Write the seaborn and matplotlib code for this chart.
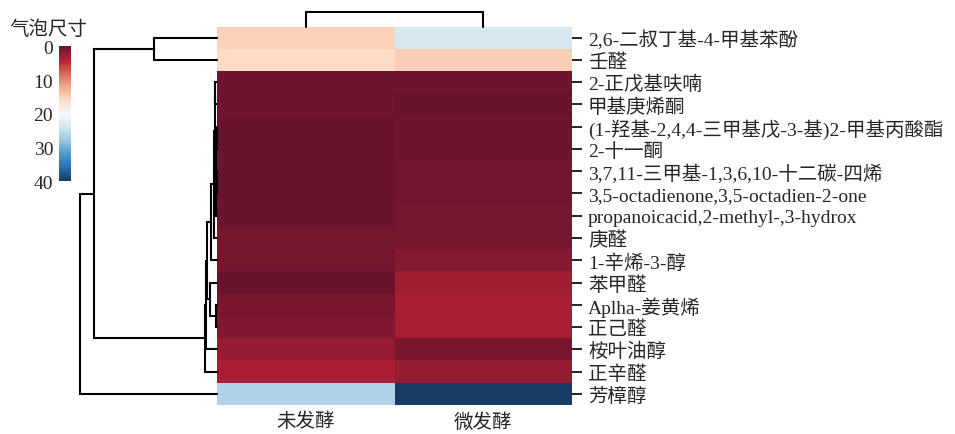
import colorsys

import numpy as np
import pandas as pd
import matplotlib
matplotlib.use("Agg")
import matplotlib.pyplot as plt
from matplotlib.colors import ListedColormap
import seaborn as sns

# ---- data -------------------------------------------------------------
compounds = [
    "2,6-二叔丁基-4-甲基苯酚",
    "壬醛",
    "2-正戊基呋喃",
    "甲基庚烯酮",
    "(1-羟基-2,4,4-三甲基戊-3-基)2-甲基丙酸酯",
    "2-十一酮",
    "3,7,11-三甲基-1,3,6,10-十二碳-四烯",
    "3,5-octadienone,3,5-octadien-2-one",
    "propanoicacid,2-methyl-,3-hydrox",
    "庚醛",
    "1-辛烯-3-醇",
    "苯甲醛",
    "Aplha-姜黄烯",
    "正己醛",
    "桉叶油醇",
    "正辛醛",
    "芳樟醇",
]
samples = ["未发酵", "微发酵"]
unfermented = [15.0, 15.8, 0.43, 0.43, 0.10, 0.10, 0.05, 0.05, 0.05,
               0.75, 0.75, 0.0, 0.9, 1.1, 2.4, 3.2, 26.3]
micro_fermented = [23.8, 14.8, 0.32, 0.05, 0.32, 0.32, 0.53, 0.53, 0.64,
                   0.64, 1.5, 2.8, 3.2, 3.2, 0.8, 2.4, 40.0]
cbar_ticks = [0, 10, 20, 30, 40]
cbar_title = "气泡尺寸"

df = pd.DataFrame({samples[0]: unfermented, samples[1]: micro_fermented},
                  index=compounds)


# ---- hierarchical clustering (single linkage, euclidean) --------------
def single_linkage(X):
    X = np.asarray(X, dtype=float)
    n = len(X)
    D = np.sqrt(((X[:, None, :] - X[None, :, :]) ** 2).sum(-1))
    clusters = {i: [i] for i in range(n)}
    merges = []
    next_id = n
    while len(clusters) > 1:
        keys = list(clusters)
        best = None
        for i in range(len(keys)):
            for j in range(i + 1, len(keys)):
                a, b = keys[i], keys[j]
                d = D[np.ix_(clusters[a], clusters[b])].min()
                if best is None or d < best[0]:
                    best = (d, a, b)
        d, a, b = best
        # the branch holding the earlier row is drawn first
        if min(clusters[a]) > min(clusters[b]):
            a, b = b, a
        merges.append((a, b, d))
        clusters[next_id] = clusters.pop(a) + clusters.pop(b)
        next_id += 1
    return n, merges


def dendro_layout(n, merges):
    children = {n + k: (a, b) for k, (a, b, _) in enumerate(merges)}
    root = n + len(merges) - 1

    def leaves(node):
        if node < n:
            return [node]
        a, b = children[node]
        return leaves(a) + leaves(b)

    order = leaves(root) if merges else [0]
    pos = {leaf: i + 0.5 for i, leaf in enumerate(order)}
    h = {leaf: 0.0 for leaf in range(n)}
    segs = []
    for k, (a, b, d) in enumerate(merges):
        node = n + k
        pos[node] = (pos[a] + pos[b]) / 2
        h[node] = d
        segs.append(([h[a], d, d, h[b]], [pos[a], pos[a], pos[b], pos[b]]))
    top = merges[-1][2] if merges else 1.0
    return order, segs, top


row_n, row_merges = single_linkage(df.values)
row_order, row_segs, row_top = dendro_layout(row_n, row_merges)
col_n, col_merges = single_linkage(df.values.T)
col_order, col_segs, col_top = dendro_layout(col_n, col_merges)

data = df.iloc[row_order, col_order]

# ---- colour map: RdBu with softened dark ends -------------------------
muted = []
for r, g, b in plt.get_cmap("RdBu")(np.linspace(0, 1, 256))[:, :3]:
    hh, ll, ss = colorsys.rgb_to_hls(r, g, b)
    ss *= 0.45 + 0.55 * min(1.0, ll / 0.45)
    ll = ll + 0.05 * (1 - ll)
    muted.append(colorsys.hls_to_rgb(hh, ll, ss))
cmap = ListedColormap(muted, name="RdBu_soft")

# ---- figure -----------------------------------------------------------
sns.set_theme(style="white")
plt.rcParams["font.family"] = ["Liberation Serif", "Noto Sans CJK SC"]
plt.rcParams["font.size"] = 14

W, H = 955, 435
fig = plt.figure(figsize=(W / 100, H / 100), dpi=100)


def px_axes(x0, y0, x1, y1):
    return fig.add_axes([x0 / W, 1 - y1 / H, (x1 - x0) / W, (y1 - y0) / H])


hm_l, hm_r, hm_t, hm_b = 217, 572, 27.5, 406
ax = px_axes(hm_l, hm_t, hm_r, hm_b)
ax_row = px_axes(80, hm_t, hm_l, hm_b)
ax_col = px_axes(hm_l, 13, hm_r, hm_t)
cax = px_axes(58.7, 47.3, 71, 182.3)

sns.heatmap(data, ax=ax, cmap=cmap, vmin=0, vmax=40, cbar_ax=cax,
            xticklabels=True, yticklabels=True)

ax.set_xlabel("")
ax.set_ylabel("")
ax.yaxis.tick_right()
ax.set_yticklabels(data.index, rotation=0, fontsize=14)
ax.set_xticklabels(data.columns, rotation=0, fontsize=14)
ax.tick_params(axis="y", which="major", left=False, right=True,
               length=7.5, width=1.2, pad=4, color="black")
ax.tick_params(axis="x", which="major", bottom=True, direction="in",
               length=4, width=1.2, pad=5, color="black")

# colour bar: 0 at the top, labels on the left
cax.invert_yaxis()
cax.yaxis.set_ticks_position("left")
cax.set_yticks(cbar_ticks)
cax.set_yticklabels([str(t) for t in cbar_ticks], fontsize=14)
cax.tick_params(axis="y", length=0, pad=4)
for sp in cax.spines.values():
    sp.set_visible(False)
cbar = ax.collections[0].colorbar
cbar.outline.set_visible(False)
fig.text(48 / W, 1 - 30 / H, cbar_title, ha="center", va="center",
         fontsize=14)

# row dendrogram
for hs, ps in row_segs:
    ax_row.plot(hs, ps, color="black", lw=1.5, clip_on=False,
                solid_joinstyle="miter")
ax_row.set_xlim(row_top, 0)
ax_row.set_ylim(len(row_order), 0)
ax_row.axis("off")

# column dendrogram
for hs, ps in col_segs:
    ax_col.plot(ps, hs, color="black", lw=1.5, clip_on=False,
                solid_joinstyle="miter")
ax_col.set_xlim(0, len(col_order))
ax_col.set_ylim(0, col_top)
ax_col.axis("off")

fig.savefig("out.png", dpi=100)
